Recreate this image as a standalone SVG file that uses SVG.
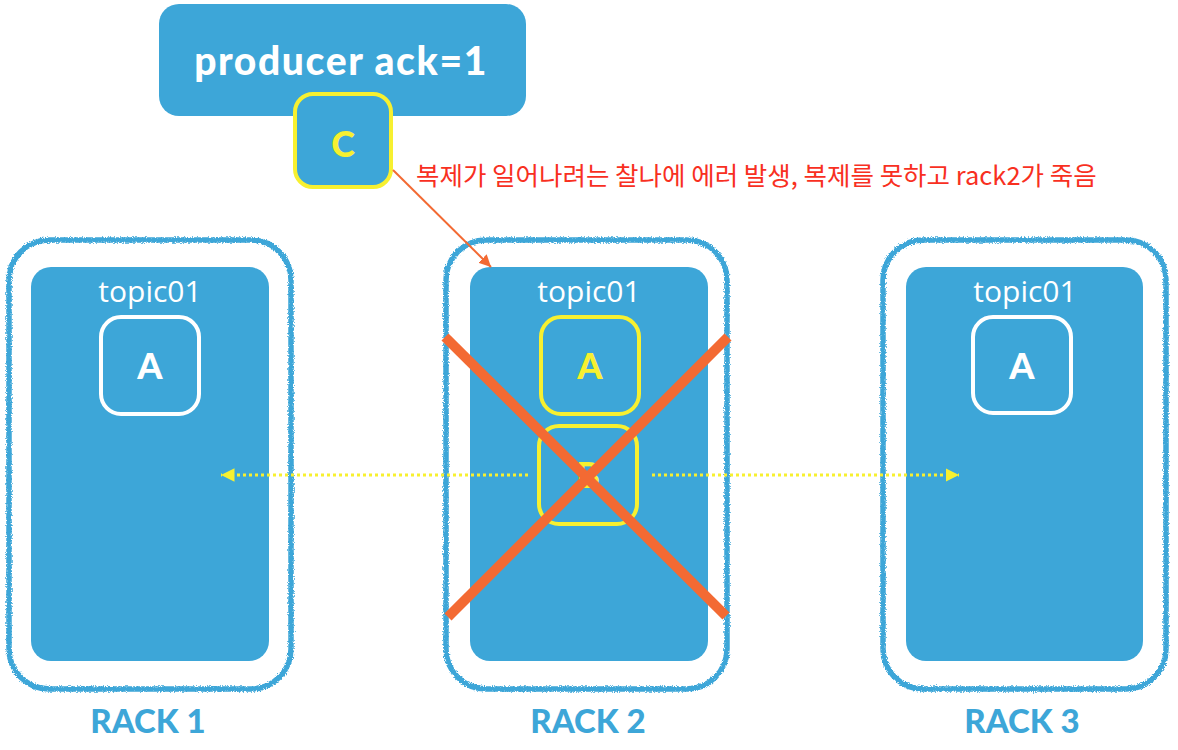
<svg xmlns="http://www.w3.org/2000/svg" width="1178" height="750" viewBox="0 0 1178 750">
<style>
.bg{fill:#ffffff}
.outer{fill:none;stroke:#3DA6D8;stroke-width:5.5;filter:url(#crayon)}
.inner{fill:#3DA6D8}
.topic{font-family:"Open Sans","Noto Sans",sans-serif;font-size:30px;fill:#ffffff;text-anchor:middle}
.part{fill:none;stroke-width:4;}
.pw{stroke:#ffffff}
.py{stroke:#F7F030}
.lbl{font-family:Lato,"Liberation Sans",sans-serif;font-weight:900;font-size:36px;text-anchor:middle}
.rack{font-family:Lato,"Liberation Sans",sans-serif;font-weight:900;font-size:33px;fill:#3DA6D8;text-anchor:middle}
.dot{stroke:#F7F030;stroke-width:3;stroke-dasharray:3 3;fill:none}
.cross{stroke:#F36A33;stroke-width:10;stroke-linecap:butt}
.note{font-family:"Noto Sans CJK KR","Noto Sans",sans-serif;font-size:25.5px;fill:#F8301F}
</style>
<defs>
<filter id="crayon" x="-5%" y="-5%" width="110%" height="110%">
<feTurbulence type="fractalNoise" baseFrequency="0.9" numOctaves="2" seed="3" result="n"/>
<feDisplacementMap in="SourceGraphic" in2="n" scale="4" xChannelSelector="R" yChannelSelector="G"/>
</filter>
<marker id="ya" viewBox="0 0 10 10" refX="10" refY="5" markerWidth="4.5" markerHeight="4.5" orient="auto" markerUnits="strokeWidth">
<path d="M0,0 L10,5 L0,10 z" fill="#F7F030"/>
</marker>
<marker id="oa" viewBox="0 0 10 10" refX="10" refY="5" markerWidth="6" markerHeight="6" orient="auto" markerUnits="strokeWidth">
<path d="M0,0 L10,5 L0,10 z" fill="#F36A33"/>
</marker>
</defs>
<rect class="bg" x="0" y="0" width="1178" height="750"/>

<g id="rack1">
<rect class="outer" x="9" y="240" width="282" height="449" rx="40"/>
<rect class="inner" x="31" y="267" width="238" height="394" rx="20"/>
<text class="topic" x="150" y="302">topic01</text>
<g id="rack1-A">
<rect class="part pw" x="101" y="317" width="98" height="97" rx="20"/>
<text class="lbl" x="150" y="379" fill="#ffffff">A</text>
</g>
<text class="rack" x="148" y="733">RACK 1</text>
</g>

<g id="rack2">
<rect class="outer" x="446" y="240" width="281" height="449" rx="40"/>
<rect class="inner" x="470" y="267" width="238" height="394" rx="20"/>
<text class="topic" x="589" y="302">topic01</text>
<g id="rack2-A">
<rect class="part py" x="541" y="317" width="98" height="97" rx="20"/>
<text class="lbl" x="590" y="379" fill="#F7F030">A</text>
</g>
<g id="rack2-B">
<rect class="part py" x="539" y="426" width="98" height="98" rx="20"/>
<text class="lbl" x="588" y="488" fill="#F7F030">B</text>
</g>
<text class="rack" x="588" y="733">RACK 2</text>
</g>

<g id="rack3">
<rect class="outer" x="883" y="240" width="283" height="449" rx="40"/>
<rect class="inner" x="906" y="267" width="237" height="394" rx="20"/>
<text class="topic" x="1025" y="302">topic01</text>
<g id="rack3-A">
<rect class="part pw" x="973" y="317" width="98" height="96" rx="20"/>
<text class="lbl" x="1022" y="379" fill="#ffffff">A</text>
</g>
<text class="rack" x="1022" y="733">RACK 3</text>
</g>

<g id="producer">
<rect x="159" y="4" width="367" height="112" rx="20" fill="#3DA6D8"/>
<text x="341" y="75" font-family="Lato,'Liberation Sans',sans-serif" font-weight="900" font-size="39" letter-spacing="1.6" fill="#ffffff" text-anchor="middle">producer ack=1</text>
<g id="msg-C">
<rect x="295" y="94" width="96" height="93" rx="18" fill="#3DA6D8" stroke="#F7F030" stroke-width="4"/>
<text class="lbl" x="343" y="157" fill="#F7F030">C</text>
</g>
</g>

<g id="connectors">
<line class="dot" x1="528" y1="475" x2="221" y2="475" marker-end="url(#ya)"/>
<line class="dot" x1="652" y1="475" x2="959" y2="475" marker-end="url(#ya)"/>
<line x1="393" y1="170" x2="491" y2="267" stroke="#F36A33" stroke-width="2" marker-end="url(#oa)"/>
</g>

<g id="cross">
<line class="cross" x1="445" y1="337" x2="726" y2="616"/>
<line class="cross" x1="728" y1="337" x2="448" y2="617"/>
</g>

<text class="note" x="416" y="185">복제가 일어나려는 찰나에 에러 발생, 복제를 못하고 rack2가 죽음</text>
</svg>
